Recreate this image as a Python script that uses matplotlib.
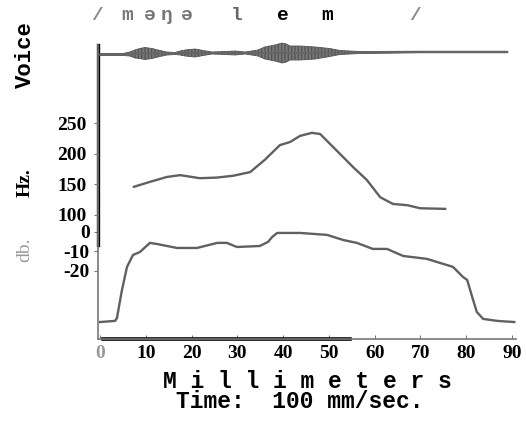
import numpy as np
import matplotlib
matplotlib.use("Agg")
import matplotlib.pyplot as plt

# voice waveform envelope (half amplitude, arbitrary units) along the time axis (mm)
voice_mm = [0, 5, 6.5, 7.6, 8.7, 9.8, 11.4, 13.1, 14.6, 16.4, 17.5, 18.6, 20.8, 22.5,
            24.5, 27.3, 29.5, 31.7, 34.5, 36, 37.1, 38.2, 39.8, 40.7, 41.5, 43.7, 45.4,
            47, 50.2, 52.4, 56.8, 70, 89]
voice_env = [1, 1, 2, 4, 5, 6, 5, 3, 1.5, 1, 2, 3, 4, 2.5,
             1, 1.5, 2, 1, 3, 6, 7, 8, 10, 9, 7, 7, 6.5,
             6, 4, 2, 1, 0.8, 0.8]
voice_base = [-2.5, -2.5, -2, -2, -1.5, -1.5, -1.5, -1.5, -1.5, -1.5, -1, -1, -1, -1,
              -1, -1, -1, -1, -1, -1, -1, -1, -1, -1, -1, -1, -1,
              -1, -0.5, -0.5, -0.5, 0, 0]

# fundamental frequency (Hz)
hz_mm = [7.4, 10.9, 14.6, 17.5, 21.8, 25.5, 29.1, 32.8, 36, 39.3, 41.5, 43.7, 46.3,
         48.1, 50.9, 55.3, 58.3, 61.2, 64, 67.1, 69.9, 75.4]
hz_val = [146, 154, 162, 165, 160, 161, 164, 170, 190, 214, 219, 229, 234,
          232, 211, 178, 157, 129, 118, 116, 111, 110]

# intensity (dB)
db_mm = [0, 3.3, 3.7, 4.8, 5.9, 7.2, 8.7, 10.9, 12.5, 16.8, 21.2, 25.6, 27.7, 29.9,
         34.9, 36.7, 37.6, 38.7, 43.7, 49.6, 53.1, 56.1, 59.6, 62.7, 66.2, 71.4, 74.3,
         77.1, 79.3, 80.2, 81.3, 82.3, 83.7, 86.7, 90.5]
db_val = [-46.2, -45.6, -44.1, -29.7, -17.9, -11.8, -10.3, -5.6, -6.2, -8.2, -8.2, -5.6,
          -5.6, -7.7, -7.2, -5.1, -2.6, -0.5, -0.5, -1.5, -4.1, -5.6, -8.7, -8.7, -12.3,
          -13.8, -15.9, -17.9, -23.1, -24.6, -33.3, -41, -44.6, -45.6, -46.2]

phones = ["/", "m", "ə", "ŋ", "ə", "l", "e", "m", "/"]
phone_mm = [-0.7, 5.9, 10.9, 14.6, 19, 29.9, 40, 49.6, 68.8]
phone_col = ["#888888", "#777777", "#777777", "#777777", "#777777", "#666666",
             "black", "black", "#888888"]

x_ticks = [0, 10, 20, 30, 40, 50, 60, 70, 80, 90]
hz_ticks = [100, 150, 200, 250]
db_ticks = [0, -10, -20]

line_col = "#606060"
serif = ["Liberation Serif", "DejaVu Serif"]
mono = ["Liberation Mono", "DejaVu Sans Mono"]

plt.rcParams["hatch.color"] = "#444444"
plt.rcParams["hatch.linewidth"] = 1.0

fig = plt.figure(figsize=(5.26, 4.32), dpi=100)
pos = [98 / 526, 93 / 432, 418 / 526, 294 / 432]

ax = fig.add_axes(pos)
ax.set_xlim(-0.44, 90.87)
ax.set_ylim(-54.9, 95.9)
ax.plot(db_mm, db_val, color=line_col, lw=1.7)
for s in ["top", "right"]:
    ax.spines[s].set_visible(False)
for s in ["left", "bottom"]:
    ax.spines[s].set_color("#777777")
    ax.spines[s].set_linewidth(1.2)
ax.axhline(-54.9, xmin=0.012, xmax=0.603, color="black", lw=2.6, clip_on=False)
ax.axvline(-0.44, ymin=0.32, ymax=1.0, color="black", lw=2.4, clip_on=False)
ax.set_xticks(x_ticks)
ax.set_xticklabels([str(t) for t in x_ticks], family=serif, fontweight="bold",
                   fontsize=14)
ax.get_xticklabels()[0].set_color("#999999")
ax.tick_params(axis="x", direction="in", length=3, pad=4, color="#777777")
ax.set_yticks(db_ticks)
ax.set_yticklabels([str(t) for t in db_ticks], family=serif, fontweight="bold",
                   fontsize=14)
ax.tick_params(axis="y", direction="out", length=3, pad=3, color="#777777")

axh = fig.add_axes(pos, sharex=ax)
axh.patch.set_visible(False)
for s in axh.spines.values():
    s.set_visible(False)
axh.set_ylim(-102.2, 377.2)
axh.plot(hz_mm, hz_val, color=line_col, lw=1.7)
axh.set_yticks(hz_ticks)
axh.set_yticklabels([str(t) for t in hz_ticks], family=serif, fontweight="bold",
                    fontsize=14)
axh.tick_params(axis="y", direction="out", length=3, pad=5, color="#777777")
axh.tick_params(axis="x", bottom=False, labelbottom=False)

axv = fig.add_axes([98 / 526, 352 / 432, 418 / 526, 55 / 432], sharex=ax)
axv.axis("off")
axv.set_ylim(-28, 27)
env = np.array(voice_env)
base = np.array(voice_base)
axv.fill_between(voice_mm, base - env, base + env, facecolor="#7a7a7a",
                 edgecolor="#555555", hatch="|||||", lw=0.6)
axv.plot(voice_mm, base, color="#666666", lw=1.3)
for sym, xm, c in zip(phones, phone_mm, phone_col):
    axv.text(xm, 37, sym, ha="center", va="center", color=c, fontsize=14,
             fontweight="bold", family=mono, clip_on=False)

fig.text(25 / 526, 1 - 55 / 432, "Voice", rotation=90, ha="center", va="center",
         family=mono, fontweight="bold", fontsize=16)
fig.text(25 / 526, 1 - 183 / 432, "Hz.", rotation=90, ha="center", va="center",
         family=serif, fontweight="bold", fontsize=14)
fig.text(25 / 526, 1 - 250 / 432, "db.", rotation=90, ha="center", va="center",
         family=serif, fontsize=14, color="#999999")
fig.text(307 / 526, 1 - 381 / 432, "M i l l i m e t e r s", ha="center",
         va="center", family=mono, fontweight="bold", fontsize=16.5)
fig.text(300 / 526, 1 - 402 / 432, "Time:  100 mm/sec.", ha="center",
         va="center", family=mono, fontweight="bold", fontsize=16.5)

fig.savefig("out.png", dpi=100, facecolor="white")
